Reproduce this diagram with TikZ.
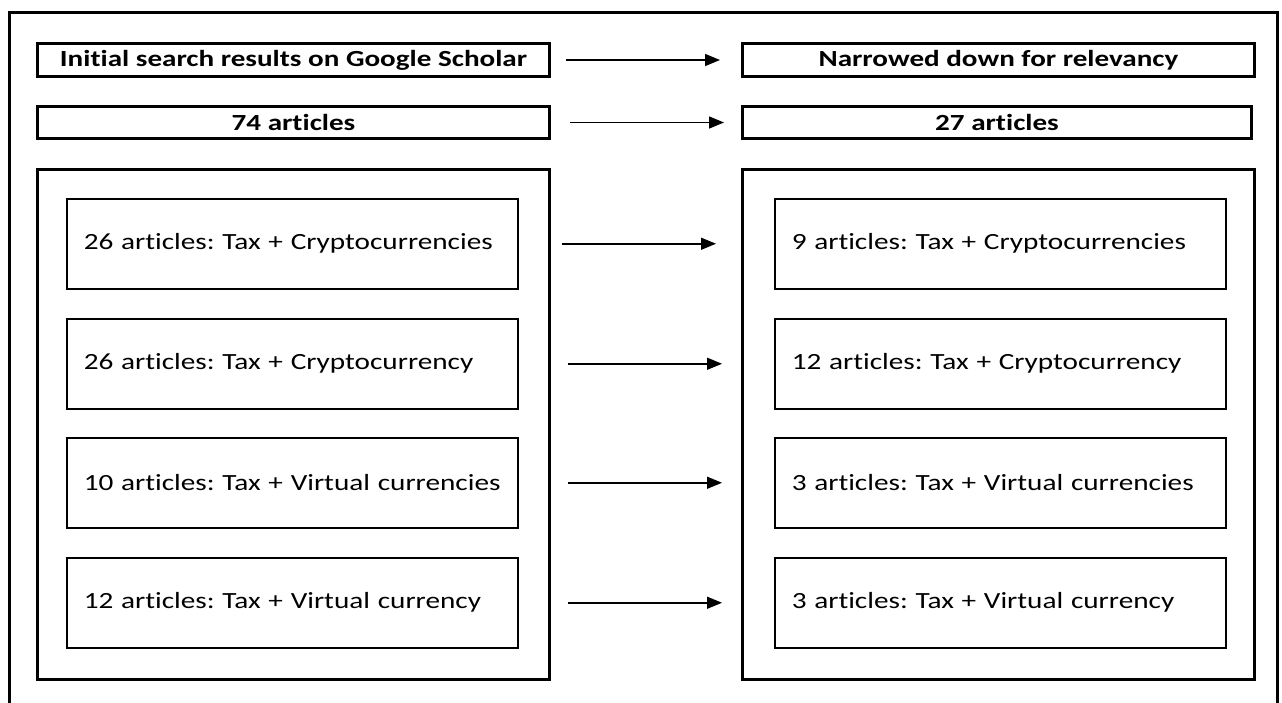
\documentclass[tikz,border=0pt]{standalone}
\usepackage{fontspec}
\setmainfont{Carlito}[FakeStretch=1.26,Ligatures=NoCommon]
\usetikzlibrary{arrows.meta}
\begin{document}
\frenchspacing
\begin{tikzpicture}[x=1pt,y=-1pt,
  thick box/.style={draw=black,line width=3pt,inner sep=0pt,anchor=north west},
  hdr/.style={thick box,font=\bfseries\fontsize{23.1}{26}\selectfont},
  inbox/.style={draw=black,line width=1.5pt,inner sep=0pt,anchor=north west,
    minimum width=451pt,minimum height=90pt,text width=451pt-34pt,align=left,
    font=\frenchspacing\fontsize{23.2}{27}\selectfont},
  arr/.style={-{Triangle[length=15pt,width=12pt]},line width=1.5pt}]
\useasboundingbox (0,0) rectangle (1282,702);
\begin{scope}
\clip (0,0) rectangle (1282,702);
\draw[line width=3pt] (9,720) -- (9,12) -- (1277,12) -- (1277,720);
\end{scope}
% header boxes
\node[hdr,minimum width=512pt,minimum height=33pt] (h1) at (36,42) {Initial search results on Google Scholar};
\node[hdr,minimum width=512pt,minimum height=33pt] (h2) at (741,42) {Narrowed down for relevancy};
\node[hdr,minimum width=512pt,minimum height=32pt] (n1) at (36,105) {74 articles};
\node[hdr,minimum width=509pt,minimum height=32pt] (n2) at (741,105) {27 articles};
% big boxes
\node[thick box,minimum width=512pt,minimum height=510pt] (bl) at (36,168) {};
\node[thick box,minimum width=512pt,minimum height=510pt] (br) at (741,168) {};
% inner boxes
\node[inbox] (l1) at (66,198) {26 articles: Tax + Cryptocurrencies};
\node[inbox] (l2) at (66,318) {26 articles: Tax + Cryptocurrency};
\node[inbox] (l3) at (66,437) {10 articles: Tax + Virtual currencies};
\node[inbox] (l4) at (66,557) {12 articles: Tax + Virtual currency};
\node[inbox] (r1) at (774,198) {9 articles: Tax + Cryptocurrencies};
\node[inbox] (r2) at (774,318) {12 articles: Tax + Cryptocurrency};
\node[inbox] (r3) at (774,437) {3 articles: Tax + Virtual currencies};
\node[inbox] (r4) at (774,557) {3 articles: Tax + Virtual currency};
% arrows
\draw[arr] ([xshift=15pt]h1.east) -- ([xshift=-21pt]h2.west);
\draw[arr] ([xshift=19pt]n1.east) -- ([xshift=-17pt]n2.west);
\draw[arr] ([xshift=43pt]l1.east) -- ([xshift=-58pt]r1.west);
\draw[arr] ([xshift=49pt]l2.east) -- ([xshift=-52pt]r2.west);
\draw[arr] ([xshift=49pt]l3.east) -- ([xshift=-52pt]r3.west);
\draw[arr] ([xshift=49pt]l4.east) -- ([xshift=-52pt]r4.west);
\end{tikzpicture}
\end{document}
